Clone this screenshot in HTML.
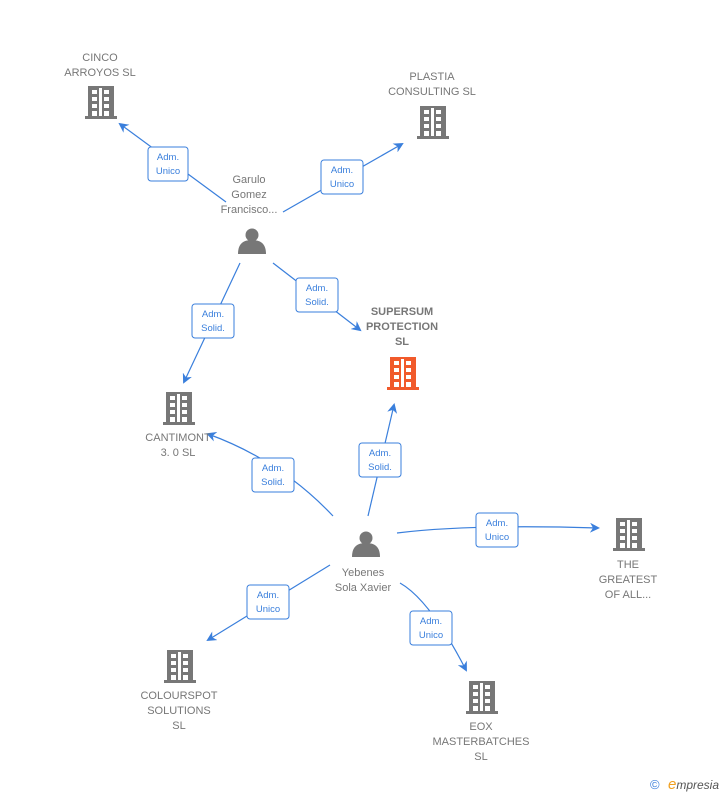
<!DOCTYPE html>
<html><head><meta charset="utf-8"><style>
body{margin:0;background:#fff;}
svg{display:block;font-family:"Liberation Sans",sans-serif;}
.n{font-size:11px;fill:#777;text-anchor:middle;}
.b{font-size:11px;fill:#777;text-anchor:middle;font-weight:bold;}
.e{stroke:#3a7fdc;stroke-width:1.2;fill:none;}
.lb rect{fill:#fff;stroke:#3a7fdc;stroke-width:1;}
.lb text{font-size:9.5px;fill:#3a7fdc;text-anchor:middle;}
</style></head><body>
<svg width="728" height="795" viewBox="0 0 728 795">
<defs>
<marker id="a" markerWidth="10" markerHeight="10" refX="8" refY="5" orient="auto" markerUnits="userSpaceOnUse"><path d="M0,0 L10,5 L0,10 L3,5 z" fill="#3a7fdc"/></marker>
<g id="bld"><rect x="-13" y="-16" width="26" height="30"/><rect x="-16" y="14" width="32" height="3"/>
<g fill="#fff"><rect x="-9" y="-12" width="5" height="4"/><rect x="3" y="-12" width="5" height="4"/><rect x="-9" y="-5" width="5" height="4"/><rect x="3" y="-5" width="5" height="4"/><rect x="-9" y="2" width="5" height="4"/><rect x="3" y="2" width="5" height="4"/><rect x="-9" y="9" width="5" height="5"/><rect x="3" y="9" width="5" height="5"/><rect x="-2" y="-14" width="3" height="28"/></g></g>
<g id="per"><circle cx="0" cy="-6" r="6.5"/><path d="M-14,13 C-14,2 -8,-1 0,-1 C8,-1 14,2 14,13 Z"/></g>
</defs>
<!-- edges -->
<path class="e" d="M226,202 L120,124" marker-end="url(#a)"/>
<path class="e" d="M283,212 L402,144" marker-end="url(#a)"/>
<path class="e" d="M240,263 L184,382" marker-end="url(#a)"/>
<path class="e" d="M273,263 L360,330" marker-end="url(#a)"/>
<path class="e" d="M333,516 Q280,460 208,434" marker-end="url(#a)"/>
<path class="e" d="M368,516 L394,405" marker-end="url(#a)"/>
<path class="e" d="M397,533 Q470,524 598,528" marker-end="url(#a)"/>
<path class="e" d="M330,565 L208,640" marker-end="url(#a)"/>
<path class="e" d="M400,583 Q430,600 466,670" marker-end="url(#a)"/>
<!-- labels -->
<g class="lb">
<g transform="translate(168,164)"><rect x="-20" y="-17" width="40" height="34" rx="3"/><text y="-4">Adm.</text><text y="10">Unico</text></g>
<g transform="translate(342,177)"><rect x="-21" y="-17" width="42" height="34" rx="3"/><text y="-4">Adm.</text><text y="10">Unico</text></g>
<g transform="translate(213,321)"><rect x="-21" y="-17" width="42" height="34" rx="3"/><text y="-4">Adm.</text><text y="10">Solid.</text></g>
<g transform="translate(317,295)"><rect x="-21" y="-17" width="42" height="34" rx="3"/><text y="-4">Adm.</text><text y="10">Solid.</text></g>
<g transform="translate(273,475)"><rect x="-21" y="-17" width="42" height="34" rx="3"/><text y="-4">Adm.</text><text y="10">Solid.</text></g>
<g transform="translate(380,460)"><rect x="-21" y="-17" width="42" height="34" rx="3"/><text y="-4">Adm.</text><text y="10">Solid.</text></g>
<g transform="translate(497,530)"><rect x="-21" y="-17" width="42" height="34" rx="3"/><text y="-4">Adm.</text><text y="10">Unico</text></g>
<g transform="translate(268,602)"><rect x="-21" y="-17" width="42" height="34" rx="3"/><text y="-4">Adm.</text><text y="10">Unico</text></g>
<g transform="translate(431,628)"><rect x="-21" y="-17" width="42" height="34" rx="3"/><text y="-4">Adm.</text><text y="10">Unico</text></g>
</g>
<!-- nodes -->
<g fill="#777">
<use href="#bld" x="101" y="102"/>
<use href="#bld" x="433" y="122"/>
<use href="#bld" x="179" y="408"/>
<use href="#bld" x="629" y="534"/>
<use href="#bld" x="180" y="666"/>
<use href="#bld" x="482" y="697"/>
<use href="#per" x="252" y="241"/>
<use href="#per" x="366" y="544"/>
</g>
<use href="#bld" x="403" y="373" fill="#f15a2b"/>
<text class="n" x="100" y="61">CINCO</text><text class="n" x="100" y="76">ARROYOS  SL</text>
<text class="n" x="432" y="80">PLASTIA</text><text class="n" x="432" y="95">CONSULTING SL</text>
<text class="n" x="249" y="183">Garulo</text><text class="n" x="249" y="198">Gomez</text><text class="n" x="249" y="213">Francisco...</text>
<text class="b" x="402" y="315">SUPERSUM</text><text class="b" x="402" y="330">PROTECTION</text><text class="b" x="402" y="345">SL</text>
<text class="n" x="178" y="441">CANTIMONT</text><text class="n" x="178" y="456">3. 0  SL</text>
<text class="n" x="363" y="576">Yebenes</text><text class="n" x="363" y="591">Sola Xavier</text>
<text class="n" x="628" y="568">THE</text><text class="n" x="628" y="583">GREATEST</text><text class="n" x="628" y="598">OF ALL...</text>
<text class="n" x="179" y="699">COLOURSPOT</text><text class="n" x="179" y="714">SOLUTIONS</text><text class="n" x="179" y="729">SL</text>
<text class="n" x="481" y="730">EOX</text><text class="n" x="481" y="745">MASTERBATCHES</text><text class="n" x="481" y="760">SL</text>
<text x="650" y="789" font-size="13" fill="#3a7fdc">©</text>
<text x="668" y="789" font-size="12" font-style="italic" fill="#555"><tspan fill="#f0a020" font-size="15">e</tspan>mpresia</text>
</svg>
</body></html>
